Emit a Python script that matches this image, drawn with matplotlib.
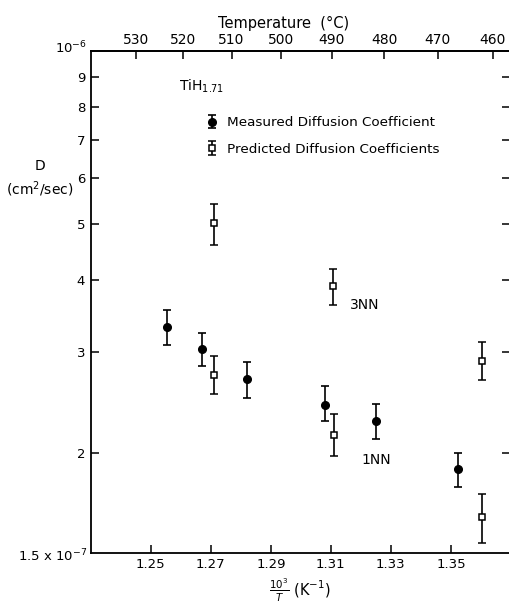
import matplotlib
matplotlib.use("Agg")
from matplotlib import pyplot as plt
from matplotlib.ticker import FixedLocator, NullLocator, FixedFormatter
import numpy as np

plt.rcParams['font.family'] = ['DejaVu Sans']

# measured diffusion coefficient (D in units of 1e-7 cm^2/sec)
meas_x = [1.2555, 1.2670, 1.2819, 1.3080, 1.3249, 1.3524]
meas_d = [3.32, 3.03, 2.69, 2.43, 2.28, 1.88]
meas_lo = [3.08, 2.84, 2.49, 2.28, 2.12, 1.75]
meas_hi = [3.55, 3.24, 2.88, 2.62, 2.44, 2.00]

# predicted diffusion coefficients
pred_x = [1.2711, 1.2711, 1.3106, 1.3110, 1.3604, 1.3604]
pred_d = [5.02, 2.74, 3.91, 2.15, 2.89, 1.55]
pred_lo = [4.60, 2.53, 3.62, 1.98, 2.68, 1.40]
pred_hi = [5.42, 2.95, 4.18, 2.34, 3.12, 1.70]

y_ticks = [2, 3, 4, 5, 6, 7, 8, 9]
temp_ticks = [530, 520, 510, 500, 490, 480, 470, 460]
x_ticks = [1.25, 1.27, 1.29, 1.31, 1.33, 1.35]

scale = 1e-7


def errs(d, lo, hi):
    d = np.array(d) * scale
    return d, np.vstack([d - np.array(lo) * scale, np.array(hi) * scale - d])


fig = plt.figure(figsize=(5.1, 6.05), dpi=100)
ax = fig.add_axes([0.178, 0.0864, 0.822, 0.8298])

d, e = errs(meas_d, meas_lo, meas_hi)
h1 = ax.errorbar(meas_x, d, yerr=e, fmt='o', color='black', ms=5.5,
                 capsize=2.6, elinewidth=1.2, capthick=1.2)
d, e = errs(pred_d, pred_lo, pred_hi)
h2 = ax.errorbar(pred_x, d, yerr=e, fmt='s', color='black', mfc='white',
                 ms=4.5, mew=1.1, capsize=2.6, elinewidth=1.2, capthick=1.2)

ax.set_yscale('log')
ax.set_ylim(1.344e-7, 1e-6)
ax.set_xlim(1.23, 1.3697)

ax.yaxis.set_major_locator(FixedLocator([v * scale for v in y_ticks]))
ax.yaxis.set_major_formatter(FixedFormatter([str(v) for v in y_ticks]))
ax.yaxis.set_minor_locator(NullLocator())
ax.set_xticks(x_ticks)
ax.set_xticklabels([f"{v:.2f}" for v in x_ticks])

ax.tick_params(axis='both', direction='in', length=6, width=1.1,
               labelsize=9.5, pad=4, right=True)
ax.tick_params(axis='y', labelright=False)
for s in ['left', 'bottom', 'top']:
    ax.spines[s].set_linewidth(1.3)
ax.spines['right'].set_visible(False)


def to_c(x):
    x = np.asarray(x, dtype=float)
    with np.errstate(divide='ignore'):
        return 1000.0 / x - 273.15


def from_c(t):
    t = np.asarray(t, dtype=float)
    with np.errstate(divide='ignore'):
        return 1000.0 / (t + 273.15)


top = ax.secondary_xaxis('top', functions=(to_c, from_c))
top.set_xticks(temp_ticks)
top.set_xticklabels([str(t) for t in temp_ticks])
top.xaxis.set_minor_locator(NullLocator())
top.tick_params(direction='in', length=6, width=1.1, labelsize=10, pad=3)
top.spines['top'].set_linewidth(1.3)
fig.text(284 / 510, 1 - 23 / 605, 'Temperature  (°C)', ha='center', va='center',
         fontsize=10.5)

ax.set_xlabel(r'$\frac{10^3}{T}$ (K$^{-1}$)', fontsize=10.5, labelpad=4)

# axis end labels
fig.text(87 / 510, 1 - 48 / 605, r'10$^{-6}$', ha='right', va='center', fontsize=9.5)
fig.text(87 / 510, 1 - 556 / 605, r'1.5 x 10$^{-7}$', ha='right', va='center', fontsize=9.5)
fig.text(40 / 510, 1 - 179 / 605, 'D\n(cm$^2$/sec)', ha='center', va='center',
         fontsize=10, linespacing=1.4)

ax.text(1.2593, 8.67e-7, r'TiH$_{1.71}$', fontsize=10, va='center')
ax.text(1.3163, 3.62e-7, '3NN', fontsize=10, va='center')
ax.text(1.3203, 1.946e-7, '1NN', fontsize=10, va='center')

ax.legend([h1, h2], ['Measured Diffusion Coefficient', 'Predicted Diffusion Coefficients'],
          loc='upper left', bbox_to_anchor=(0.261, 0.88), frameon=False,
          fontsize=9.7, handlelength=1.0, handletextpad=0.6, labelspacing=1.0,
          borderaxespad=0)

fig.savefig('out.png', dpi=100)
